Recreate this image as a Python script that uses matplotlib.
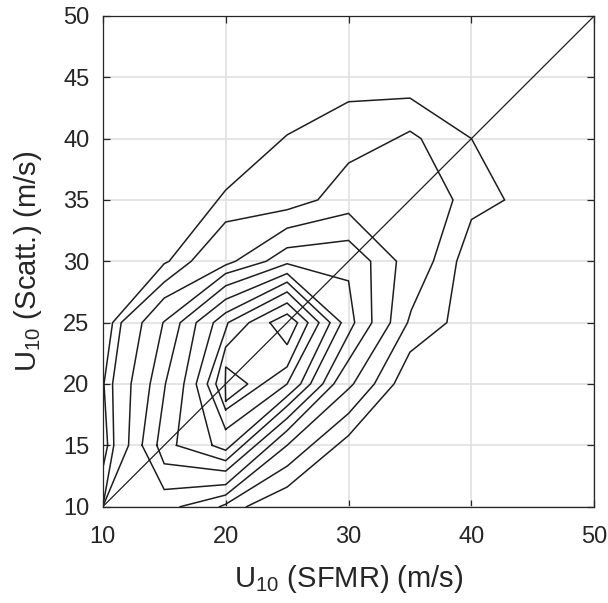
import matplotlib.pyplot as plt
import numpy as np

plt.rcParams['font.family'] = ['Liberation Sans', 'DejaVu Sans']
plt.rcParams['mathtext.fontset'] = 'custom'
plt.rcParams['mathtext.rm'] = 'Liberation Sans'

# Contour lines of the SFMR / scatterometer joint histogram (outermost first).
# Each line is a list of (U10 SFMR, U10 scatterometer) vertices in m/s.
level_1 = [(10, 13.1), (10.4, 15), (10.1, 20), (10.8, 25), (15, 29.8), (15.4, 30), (20, 35.8),
           (25, 40.3), (30, 43.0), (35, 43.3), (40, 40.0), (42.7, 35), (40, 33.4), (38.8, 30),
           (38.0, 25), (35, 22.6), (33.7, 20), (30, 15.8), (25, 11.6), (21.7, 10)]
level_2 = [(10, 10), (10.9, 15), (10.8, 20), (11.5, 25), (15, 28.3), (17.2, 30), (20, 33.2),
           (25, 34.2), (27.5, 35), (30, 38.0), (35, 40.6), (35.9, 40), (38.5, 35), (36.9, 30),
           (35.1, 26), (34.8, 25), (32.1, 20), (30, 17.6), (25, 13.3), (20, 10.2), (19.5, 10)]
level_3 = [(10, 10), (12.1, 15), (12.3, 20), (13.2, 25), (15, 27.0), (20, 29.7), (20.8, 30),
           (25, 32.7), (30, 33.9), (33.9, 30), (33.4, 25), (30.4, 20), (30, 19.6), (25, 15.0),
           (20, 10.95), (16.3, 10)]
level_4 = [(13.2, 15), (13.85, 20), (14.9, 25), (15, 25.1), (20, 29.0), (23.3, 30), (25, 31.1),
           (30, 31.7), (31.8, 30), (31.9, 25), (28.8, 20), (25, 16.2), (20, 11.8), (15, 11.4),
           (13.2, 15)]
level_5 = [(14.4, 15), (15.1, 20), (16.3, 25), (20, 28.0), (25, 29.8), (30, 28.4), (30.5, 25),
           (27.9, 20), (25, 17.2), (20, 12.9), (15, 13.5), (14.4, 15)]
level_6 = [(16.0, 15), (16.6, 20), (17.6, 25), (20, 26.9), (25, 29.0), (29.4, 25), (26.9, 20),
           (25, 18.2), (20, 13.75), (16.0, 15)]
level_7 = [(18.9, 15), (17.6, 20), (19.0, 25), (20, 25.8), (25, 28.3), (28.5, 25), (26.1, 20),
           (25, 19.0), (20, 14.6), (18.9, 15)]
level_8 = [(20, 16.3), (18.5, 20), (20.2, 25), (25, 27.5), (27.6, 25), (25, 20.0), (20, 16.3)]
level_9 = [(20, 17.9), (19.2, 20), (20, 23.0), (21.9, 25), (25, 26.6), (26.7, 25), (25, 21.4),
           (20, 17.9)]
level_10a = [(20, 18.6), (19.97, 20), (20, 21.4), (21.8, 20), (20, 18.6)]
level_10b = [(23.6, 25), (25, 25.7), (25.85, 25), (25, 23.2), (23.6, 25)]

contours = [level_1, level_2, level_3, level_4, level_5, level_6, level_7,
            level_8, level_9, level_10a, level_10b]

ticks_x = [10, 20, 30, 40, 50]
ticks_y = [10, 15, 20, 25, 30, 35, 40, 45, 50]

fig = plt.figure(figsize=(6.08, 6.03), dpi=100)
ax = fig.add_axes([0.169, 0.1597, 0.8085, 0.814])

for line in contours:
    xy = np.array(line)
    ax.plot(xy[:, 0], xy[:, 1], color='#1e1e1e', linewidth=1.1, solid_joinstyle='miter')

# one-to-one reference line
ax.plot([10, 50], [10, 50], color='#1e1e1e', linewidth=0.9)

ax.set_xlim(10, 50)
ax.set_ylim(10, 50)
ax.set_xticks(ticks_x)
ax.set_yticks(ticks_y)
ax.grid(True, color='#e0e0e0', linewidth=1.2)
ax.set_axisbelow(True)

axis_color = '#262626'
for sp in ax.spines.values():
    sp.set_color(axis_color)
    sp.set_linewidth(0.9)
ax.tick_params(direction='in', length=5, width=0.9, colors=axis_color, labelsize=17,
               top=True, right=True)
ax.tick_params(axis='x', pad=14)
ax.tick_params(axis='y', pad=9.5)

ax.set_xlabel(r'U$_{10}$ (SFMR) (m/s)', fontsize=21, color=axis_color, labelpad=11)
ax.set_ylabel(r'U$_{10}$ (Scatt.) (m/s)', fontsize=21, color=axis_color, labelpad=14)

fig.savefig('out.png', dpi=100)
